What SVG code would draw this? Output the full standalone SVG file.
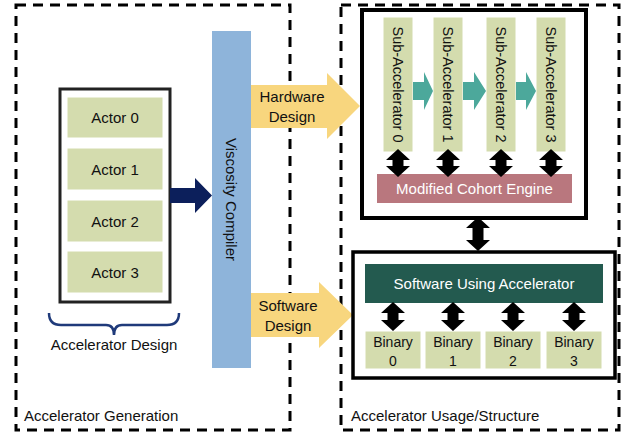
<svg xmlns="http://www.w3.org/2000/svg" width="624" height="434" viewBox="0 0 624 434">
<style>
text{font-family:"Liberation Sans",Arial,sans-serif;font-size:15px;fill:#111}
.dash{fill:none;stroke:#000;stroke-width:3;stroke-dasharray:10 7}
.green{fill:#d4dcae;stroke:#fff;stroke-width:1}
.dbl{fill:#000}
.teal{fill:#4ca89b}
.yellow{fill:#f8d67e}
.w{fill:#fff}
.c{text-anchor:middle}
</style>
<rect width="624" height="434" fill="#fff"/>
<g id="accelerator-generation">
<rect class="dash" x="16" y="5" width="274" height="425"/>
<text x="24" y="421">Accelerator Generation</text>
</g>
<g id="accelerator-usage">
<rect class="dash" x="341" y="5" width="278" height="425"/>
<text x="351" y="421">Accelerator Usage/Structure</text>
</g>
<g id="accelerator-design">
<rect x="60" y="89" width="110" height="213" fill="#fff" stroke="#222" stroke-width="3"/>
<g id="actor0"><rect class="green" x="67" y="97" width="96" height="41"/><text class="c" x="115" y="123">Actor 0</text></g>
<g id="actor1"><rect class="green" x="67" y="148" width="96" height="42"/><text class="c" x="115" y="175">Actor 1</text></g>
<g id="actor2"><rect class="green" x="67" y="200" width="96" height="42"/><text class="c" x="115" y="227">Actor 2</text></g>
<g id="actor3"><rect class="green" x="67" y="251" width="96" height="42"/><text class="c" x="115" y="278">Actor 3</text></g>
<path d="M49,313 Q49,325 61,325 L106,325 Q114,325 114,335 Q114,325 122,325 L167,325 Q179,325 179,313" fill="none" stroke="#1f3a7a" stroke-width="2.5"/>
<text class="c" x="114" y="350">Accelerator Design</text>
</g>
<g id="viscosity-compiler">
<rect x="212" y="31" width="39" height="337" fill="#8eb4da"/>
<text class="c" transform="translate(231,199.5) rotate(90)" dy="0.35em">Viscosity Compiler</text>
</g>
<g id="hardware-design">
<polygon class="yellow" points="251,85 327,85 327,73 360,106 327,139 327,128 251,128"/>
<text class="c" x="292" y="102">Hardware</text>
<text class="c" x="292" y="122">Design</text>
</g>
<g id="software-design">
<polygon class="yellow" points="251,293 319,293 319,282 353,315 319,348 319,337 251,337"/>
<text class="c" x="288" y="311">Software</text>
<text class="c" x="288" y="331">Design</text>
</g>
<g id="hardware-box">
<rect x="362" y="10" width="224" height="208" fill="#fff" stroke="#000" stroke-width="4"/>
</g>
<g id="sub-accelerator-0"><rect class="green" x="383" y="17" width="30" height="135"/><text class="c" style="font-size:14.5px" transform="translate(398,84.5) rotate(90)" dy="0.35em">Sub-Accelerator 0</text></g>
<g id="sub-accelerator-1"><rect class="green" x="433" y="17" width="30" height="135"/><text class="c" style="font-size:14.5px" transform="translate(448,84.5) rotate(90)" dy="0.35em">Sub-Accelerator 1</text></g>
<g id="sub-accelerator-2"><rect class="green" x="486" y="17" width="30" height="135"/><text class="c" style="font-size:14.5px" transform="translate(501,84.5) rotate(90)" dy="0.35em">Sub-Accelerator 2</text></g>
<g id="sub-accelerator-3"><rect class="green" x="536" y="17" width="30" height="135"/><text class="c" style="font-size:14.5px" transform="translate(551,84.5) rotate(90)" dy="0.35em">Sub-Accelerator 3</text></g>
<g id="cohort-engine">
<rect x="377" y="174" width="195" height="29" fill="#b9777e"/>
<text class="c w" x="474.5" y="194">Modified Cohort Engine</text>
</g>
<g id="software-box">
<rect x="353" y="252" width="262" height="126" fill="#fff" stroke="#000" stroke-width="3.5"/>
</g>
<g id="software-using-accelerator">
<rect x="365" y="264" width="238" height="39" fill="#235a4f"/>
<text class="c w" x="484" y="289">Software Using Accelerator</text>
</g>
<g id="binary-0"><rect class="green" x="365" y="331" width="56" height="38"/><text class="c" style="font-size:14px" x="393" y="347">Binary</text><text class="c" style="font-size:14px" x="393" y="366">0</text></g>
<g id="binary-1"><rect class="green" x="425" y="331" width="56" height="38"/><text class="c" style="font-size:14px" x="453" y="347">Binary</text><text class="c" style="font-size:14px" x="453" y="366">1</text></g>
<g id="binary-2"><rect class="green" x="485" y="331" width="56" height="38"/><text class="c" style="font-size:14px" x="513" y="347">Binary</text><text class="c" style="font-size:14px" x="513" y="366">2</text></g>
<g id="binary-3"><rect class="green" x="546" y="331" width="56" height="38"/><text class="c" style="font-size:14px" x="574" y="347">Binary</text><text class="c" style="font-size:14px" x="574" y="366">3</text></g>
<g id="connectors">
<polygon fill="#0c1f5b" points="170,188 195,188 195,178 212,195.5 195,213 195,203 170,203"/>
<polygon class="teal" points="413,82 424,82 424,72 433,91 424,110 424,100 413,100"/>
<polygon class="teal" points="463,82 474,82 474,72 486,91 474,110 474,100 463,100"/>
<polygon class="teal" points="516,82 526,82 526,72 536,91 526,110 526,100 516,100"/>
<polygon class="dbl" points="398,149 410,160 403.5,160 403.5,166 410,166 398,177 386,166 392.5,166 392.5,160 386,160"/>
<polygon class="dbl" points="448,149 460,160 453.5,160 453.5,166 460,166 448,177 436,166 442.5,166 442.5,160 436,160"/>
<polygon class="dbl" points="501,149 513,160 506.5,160 506.5,166 513,166 501,177 489,166 495.5,166 495.5,160 489,160"/>
<polygon class="dbl" points="551,149 563,160 556.5,160 556.5,166 563,166 551,177 539,166 545.5,166 545.5,160 539,160"/>
<polygon class="dbl" points="478,217 490,228 483.5,228 483.5,240 490,240 478,251 466,240 472.5,240 472.5,228 466,228"/>
<polygon class="dbl" points="393,302 405,313 398.5,313 398.5,320 405,320 393,331 381,320 387.5,320 387.5,313 381,313"/>
<polygon class="dbl" points="453,302 465,313 458.5,313 458.5,320 465,320 453,331 441,320 447.5,320 447.5,313 441,313"/>
<polygon class="dbl" points="513,302 525,313 518.5,313 518.5,320 525,320 513,331 501,320 507.5,320 507.5,313 501,313"/>
<polygon class="dbl" points="574,302 586,313 579.5,313 579.5,320 586,320 574,331 562,320 568.5,320 568.5,313 562,313"/>
</g>
</svg>
